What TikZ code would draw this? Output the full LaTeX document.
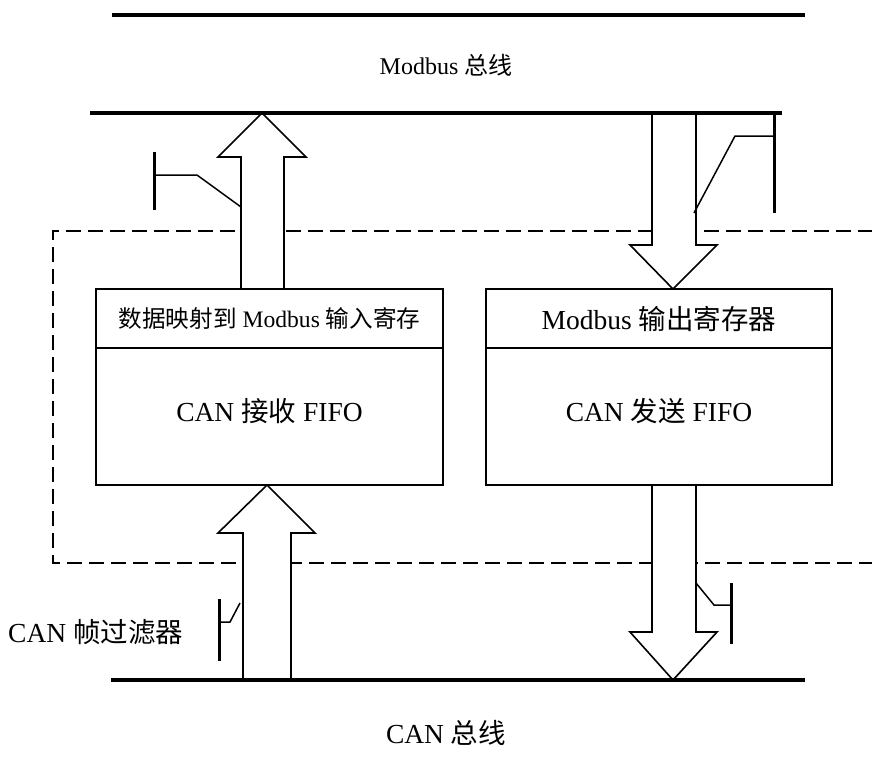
\documentclass[tikz,border=0pt]{standalone}
\usepackage{fontspec}
\setmainfont{Liberation Serif}
\newfontfamily\cjk{Noto Sans CJK SC}
\begin{document}
\begin{tikzpicture}[x=1pt,y=-1pt,
  bus/.style={line width=3.2pt},
  bar/.style={line width=3pt},
  sw/.style={line width=1.5pt},
  box/.style={draw, line width=1.6pt, inner sep=0pt, outer sep=0pt, anchor=north west},
  bigarrow/.style={draw, fill=white, line width=1.6pt, line join=miter},
  dashbox/.style={line width=1.6pt, dash pattern=on 15pt off 7pt},
  lbl/.style={font=\fontsize{27.5}{30}\selectfont, inner sep=0pt},
  slbl/.style={font=\fontsize{24}{28}\selectfont, inner sep=0pt}]
\useasboundingbox (0,0) rectangle (872,776);
% dashed region
\coordinate (d1) at (873,231); \coordinate (d2) at (53,231);
\coordinate (d3) at (53,563); \coordinate (d4) at (873,563);
\draw[dashbox] (d1) -- (d2) -- (d3) -- (d4);
% arrows
\draw[bigarrow] (241,289) -- (241,157) -- (218,157) -- (262,113) -- (306,157) -- (284,157) -- (284,289);
\draw[bigarrow] (243,680) -- (243,533) -- (218,533) -- (267,485) -- (315,533) -- (291,533) -- (291,680);
\draw[bigarrow] (652,113) -- (652,245) -- (630,245) -- (673,289) -- (717,245) -- (696,245) -- (696,113);
\draw[bigarrow] (652,485) -- (652,632) -- (630,632) -- (673,680) -- (717,632) -- (696,632) -- (696,485);
% buses
\coordinate (t1a) at (112,15); \coordinate (t1b) at (805,15);
\coordinate (t2a) at (90,113); \coordinate (t2b) at (782,113);
\coordinate (b1a) at (111,680); \coordinate (b1b) at (805,680);
\draw[bus] (t1a) -- (t1b);
\draw[bus] (t2a) -- (t2b);
\draw[bus] (b1a) -- (b1b);
\node[slbl] (modbus) at (446,65) {Modbus {\cjk 总线}};
\node[lbl] (canbus) at (446,733) {CAN {\cjk 总线}};
% boxes
\node[box, minimum width=347pt, minimum height=59pt] (lhead) at (96,289) {};
\node[box, minimum width=347pt, minimum height=137pt] (lbody) at (96,348) {};
\node[box, minimum width=346pt, minimum height=59pt] (rhead) at (486,289) {};
\node[box, minimum width=346pt, minimum height=137pt] (rbody) at (486,348) {};
\node[font=\fontsize{23.6}{28}\selectfont, inner sep=0pt] (lheadt) at (lhead.center) {{\cjk 数据映射到} Modbus {\cjk 输入寄存}};
\node[lbl] (lbodyt) at ([yshift=5pt]lbody.center) {CAN {\cjk 接收} FIFO};
\node[lbl] (rheadt) at (rhead.center) {Modbus {\cjk 输出寄存器}};
\node[lbl] (rbodyt) at ([yshift=5pt]rbody.center) {CAN {\cjk 发送} FIFO};
% switches
\coordinate (s1a) at (154,152); \coordinate (s1b) at (154,210);
\draw[bar] (s1a) -- (s1b);
\draw[sw] (154,175) -- (197,175) -- (241,207);
\coordinate (s2a) at (774,113); \coordinate (s2b) at (774,213);
\draw[bar] (s2a) -- (s2b);
\draw[sw] (774,136) -- (735,136) -- (694,213);
\coordinate (s3a) at (219,599); \coordinate (s3b) at (219,661);
\draw[bar] (s3a) -- (s3b);
\draw[sw] (219,622) -- (230,622) -- (240,603);
\coordinate (s4a) at (731,583); \coordinate (s4b) at (731,644);
\draw[bar] (s4a) -- (s4b);
\draw[sw] (696,583) -- (714,605) -- (731,605);
\node[lbl, anchor=west] (filter) at (8,632) {CAN {\cjk 帧过滤器}};
\end{tikzpicture}
\end{document}
